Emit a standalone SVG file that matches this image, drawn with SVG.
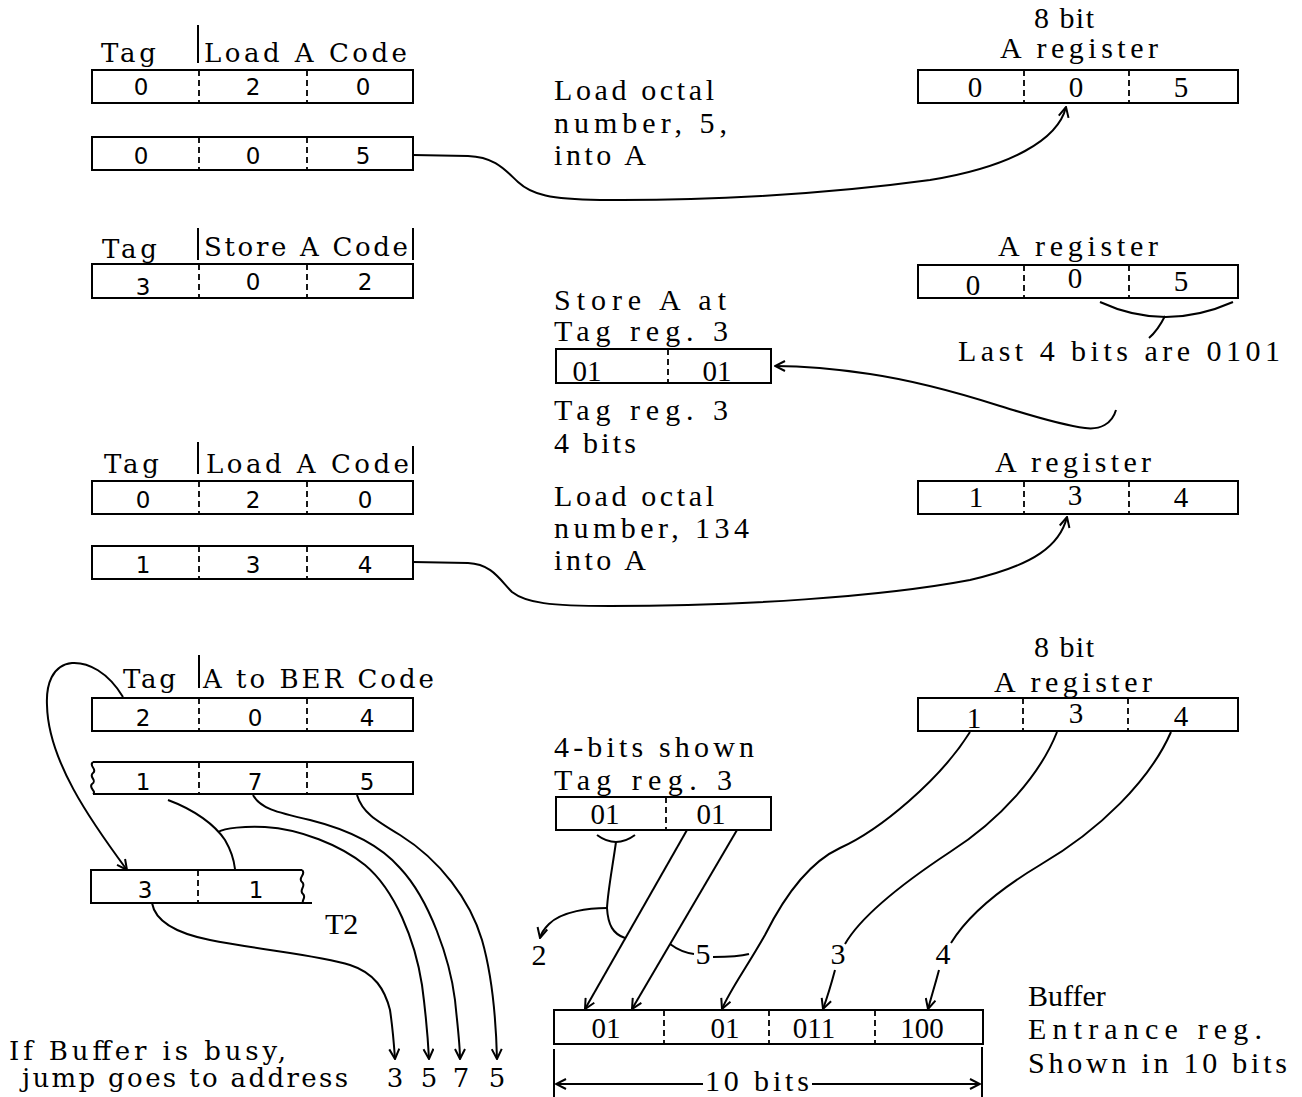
<svg xmlns="http://www.w3.org/2000/svg" width="1302" height="1097" viewBox="0 0 1302 1097">
<style>
.bx{fill:none;stroke:#000;stroke-width:2}
.dv{fill:none;stroke:#000;stroke-width:1.8;stroke-dasharray:6 4}
.ln{fill:none;stroke:#000;stroke-width:2}
.lb{font-family:"DejaVu Serif","Liberation Serif",serif;font-size:26px;fill:#000}
.tx{font-family:"Liberation Serif","DejaVu Serif",serif;font-size:30px;fill:#000}
.dl{font-family:"DejaVu Sans","Liberation Sans",sans-serif;font-size:23px;fill:#000;text-anchor:middle}
.dr{font-family:"Liberation Serif",serif;font-size:29px;fill:#000;text-anchor:middle}
.md{text-anchor:middle}
</style>
<defs>
<marker id="ah" viewBox="0 0 12 12" refX="11" refY="6" markerWidth="12" markerHeight="12" markerUnits="userSpaceOnUse" orient="auto">
<path d="M1,1 L11,6 L1,11" fill="none" stroke="#000" stroke-width="2"/>
</marker>
<marker id="ahs" viewBox="0 0 12 12" refX="11" refY="6" markerWidth="12" markerHeight="12" markerUnits="userSpaceOnUse" orient="auto-start-reverse">
<path d="M1,1 L11,6 L1,11" fill="none" stroke="#000" stroke-width="2"/>
</marker>
</defs>
<rect width="1302" height="1097" fill="#fff"/>

<!-- Row 1: Load A instruction -->
<g id="load-a-1">
<text class="lb" x="101" y="62" textLength="55">Tag</text>
<line class="ln" x1="198" y1="25" x2="198" y2="63"/>
<text class="lb" x="204" y="62" textLength="203">Load A Code</text>
<rect class="bx" x="92" y="70" width="321" height="33"/>
<line class="dv" x1="199" y1="70" x2="199" y2="103"/>
<line class="dv" x1="307" y1="70" x2="307" y2="103"/>
<text class="dl" x="141" y="95">0</text>
<text class="dl" x="253" y="95">2</text>
<text class="dl" x="363" y="95">0</text>
</g>
<g id="operand-005">
<rect class="bx" x="92" y="137" width="321" height="33"/>
<line class="dv" x1="199" y1="137" x2="199" y2="170"/>
<line class="dv" x1="307" y1="137" x2="307" y2="170"/>
<text class="dl" x="141" y="164">0</text>
<text class="dl" x="253" y="164">0</text>
<text class="dl" x="363" y="164">5</text>
</g>
<g id="note-load5">
<text class="tx" x="554" y="100" textLength="160">Load octal</text>
<text class="tx" x="554" y="133" textLength="173">number, 5,</text>
<text class="tx" x="554" y="165" textLength="92">into A</text>
</g>
<g id="areg-1">
<text class="tx md" x="1064" y="28" textLength="60">8 bit</text>
<text class="tx md" x="1079" y="58" textLength="158">A register</text>
<rect class="bx" x="918" y="70" width="320" height="33"/>
<line class="dv" x1="1024" y1="70" x2="1024" y2="103"/>
<line class="dv" x1="1129" y1="70" x2="1129" y2="103"/>
<text class="dr" x="975" y="97">0</text>
<text class="dr" x="1076" y="97">0</text>
<text class="dr" x="1181" y="97">5</text>
</g>

<!-- Row 3: Store A -->
<g id="store-a">
<text class="lb" x="102" y="258" textLength="55">Tag</text>
<line class="ln" x1="198" y1="228" x2="198" y2="260"/>
<line class="ln" x1="413" y1="228" x2="413" y2="260"/>
<text class="lb" x="204" y="256" textLength="204">Store A Code</text>
<rect class="bx" x="92" y="264" width="321" height="34"/>
<line class="dv" x1="199" y1="264" x2="199" y2="298"/>
<line class="dv" x1="307" y1="264" x2="307" y2="298"/>
<text class="dl" x="143" y="295">3</text>
<text class="dl" x="253" y="290">0</text>
<text class="dl" x="365" y="290">2</text>
</g>
<g id="areg-2">
<text class="tx md" x="1078" y="256" textLength="160">A register</text>
<rect class="bx" x="918" y="265" width="320" height="33"/>
<line class="dv" x1="1024" y1="265" x2="1024" y2="298"/>
<line class="dv" x1="1129" y1="265" x2="1129" y2="298"/>
<text class="dr" x="973" y="295">0</text>
<text class="dr" x="1075" y="288">0</text>
<text class="dr" x="1181" y="291">5</text>
<path class="ln" d="M1100,302 Q1165,332 1233,302"/>
<path class="ln" d="M1165,316 C1160,326 1156,332 1149,338"/>
<text class="tx" x="958" y="361" textLength="322">Last 4 bits are 0101</text>
</g>
<g id="tagreg-1">
<text class="tx" x="554" y="310" textLength="172">Store A at</text>
<text class="tx" x="554" y="341" textLength="174">Tag reg. 3</text>
<rect class="bx" x="556" y="349" width="215" height="34"/>
<line class="dv" x1="668" y1="349" x2="668" y2="383"/>
<text class="dr" x="587" y="381">01</text>
<text class="dr" x="717" y="381">01</text>
<text class="tx" x="554" y="420" textLength="174">Tag reg. 3</text>
<text class="tx" x="554" y="453" textLength="82">4 bits</text>
</g>

<!-- Row 4: Load A 134 -->
<g id="load-a-2">
<text class="lb" x="104" y="473" textLength="55">Tag</text>
<line class="ln" x1="198" y1="442" x2="198" y2="474"/>
<line class="ln" x1="413" y1="446" x2="413" y2="474"/>
<text class="lb" x="206" y="473" textLength="203">Load A Code</text>
<rect class="bx" x="92" y="481" width="321" height="33"/>
<line class="dv" x1="199" y1="481" x2="199" y2="514"/>
<line class="dv" x1="307" y1="481" x2="307" y2="514"/>
<text class="dl" x="143" y="508">0</text>
<text class="dl" x="253" y="508">2</text>
<text class="dl" x="365" y="508">0</text>
</g>
<g id="operand-134">
<rect class="bx" x="92" y="546" width="321" height="33"/>
<line class="dv" x1="199" y1="546" x2="199" y2="579"/>
<line class="dv" x1="307" y1="546" x2="307" y2="579"/>
<text class="dl" x="143" y="573">1</text>
<text class="dl" x="253" y="573">3</text>
<text class="dl" x="365" y="573">4</text>
</g>
<g id="note-load134">
<text class="tx" x="554" y="506" textLength="160">Load octal</text>
<text class="tx" x="554" y="538" textLength="195">number, 134</text>
<text class="tx" x="554" y="570" textLength="92">into A</text>
</g>
<g id="areg-3">
<text class="tx md" x="1073" y="472" textLength="156">A register</text>
<rect class="bx" x="918" y="481" width="320" height="33"/>
<line class="dv" x1="1024" y1="481" x2="1024" y2="514"/>
<line class="dv" x1="1129" y1="481" x2="1129" y2="514"/>
<text class="dr" x="976" y="507">1</text>
<text class="dr" x="1075" y="505">3</text>
<text class="dr" x="1181" y="507">4</text>
</g>

<!-- Row 5: A to BER -->
<g id="a-to-ber">
<text class="lb" x="123" y="688" textLength="53">Tag</text>
<line class="ln" x1="199" y1="655" x2="199" y2="688"/>
<text class="lb" x="203" y="688" textLength="231">A to BER Code</text>
<rect class="bx" x="92" y="698" width="321" height="33"/>
<line class="dv" x1="199" y1="698" x2="199" y2="731"/>
<line class="dv" x1="307" y1="698" x2="307" y2="731"/>
<text class="dl" x="143" y="726">2</text>
<text class="dl" x="255" y="726">0</text>
<text class="dl" x="367" y="726">4</text>
</g>
<g id="operand-175">
<path class="bx" d="M93,762 L413,762 L413,794 L93,794 M93,762 C88,766 98,769 93,773 C88,777 98,780 92,784 C88,788 97,791 93,794"/>
<line class="dv" x1="199" y1="762" x2="199" y2="794"/>
<line class="dv" x1="307" y1="762" x2="307" y2="794"/>
<text class="dl" x="143" y="790">1</text>
<text class="dl" x="255" y="790">7</text>
<text class="dl" x="367" y="790">5</text>
</g>
<g id="t2">
<path class="bx" d="M302,870 L91,870 L91,903 L312,903 M302,870 C307,874 297,878 302,882 C307,886 298,890 303,894 C307,898 300,901 304,903"/>
<line class="dv" x1="198" y1="870" x2="198" y2="903"/>
<text class="dl" x="145" y="898">3</text>
<text class="dl" x="256" y="898">1</text>
<text class="tx" x="325" y="934">T2</text>
</g>
<g id="jump-note">
<text class="lb" x="9" y="1060" textLength="277">If Buffer is busy,</text>
<text class="lb" x="22" y="1087" textLength="326">jump goes to address</text>
<text class="lb md" x="395" y="1087">3</text>
<text class="lb md" x="429" y="1087">5</text>
<text class="lb md" x="461" y="1087">7</text>
<text class="lb md" x="497" y="1087">5</text>
</g>

<!-- Bottom right -->
<g id="areg-4">
<text class="tx md" x="1064" y="657" textLength="60">8 bit</text>
<text class="tx md" x="1073" y="692" textLength="158">A register</text>
<rect class="bx" x="918" y="698" width="320" height="33"/>
<line class="dv" x1="1023" y1="698" x2="1023" y2="731"/>
<line class="dv" x1="1128" y1="698" x2="1128" y2="731"/>
<text class="dr" x="974" y="728">1</text>
<text class="dr" x="1076" y="723">3</text>
<text class="dr" x="1181" y="726">4</text>
</g>
<g id="tagreg-2">
<text class="tx" x="554" y="757" textLength="200">4-bits shown</text>
<text class="tx" x="554" y="790" textLength="178">Tag reg. 3</text>
<rect class="bx" x="556" y="797" width="215" height="33"/>
<line class="dv" x1="666" y1="797" x2="666" y2="830"/>
<text class="dr" x="605" y="824">01</text>
<text class="dr" x="711" y="824">01</text>
</g>
<g id="buffer">
<rect class="bx" x="554" y="1010" width="429" height="34"/>
<line class="dv" x1="664" y1="1010" x2="664" y2="1044"/>
<line class="dv" x1="769" y1="1010" x2="769" y2="1044"/>
<line class="dv" x1="875" y1="1010" x2="875" y2="1044"/>
<text class="dr" x="606" y="1038">01</text>
<text class="dr" x="725" y="1038">01</text>
<text class="dr" x="814" y="1038">011</text>
<text class="dr" x="922" y="1038">100</text>
<text class="tx" x="1028" y="1006">Buffer</text>
<text class="tx" x="1028" y="1039" textLength="234">Entrance reg.</text>
<text class="tx" x="1028" y="1073" textLength="259">Shown in 10 bits</text>
<line class="ln" x1="554" y1="1049" x2="554" y2="1097"/>
<line class="ln" x1="982" y1="1047" x2="982" y2="1097"/>
<line class="ln" x1="556" y1="1084" x2="703" y2="1084" marker-start="url(#ahs)"/>
<line class="ln" x1="812" y1="1084" x2="980" y2="1084" marker-end="url(#ah)"/>
<text class="tx md" x="757" y="1091" font-size="27" textLength="104">10 bits</text>
</g>
<g id="labels-bits">
<text class="tx md" x="539" y="965">2</text>
<text class="tx md" x="703" y="964">5</text>
<text class="tx md" x="838" y="964">3</text>
<text class="tx md" x="943" y="964">4</text>
</g>

<!-- Connectors -->
<g id="connectors">
<path class="ln" d="M413,155 L468,156 C495,157 505,170 518,182 C532,195 550,199 600,200 C700,201 820,195 930,180 C1010,167 1058,140 1066,107" marker-end="url(#ah)"/>
<path class="ln" d="M1116,410 C1112,424 1100,430 1085,428 C1060,425 1030,415 1000,406 C950,390 910,380 870,374 C830,368 800,366 775,366" marker-end="url(#ah)"/>
<path class="ln" d="M413,562 L468,563 C492,564 500,580 512,592 C526,603 550,606 610,606 C740,606 880,597 970,580 C1035,565 1060,545 1067,517" marker-end="url(#ah)"/>
<path class="ln" d="M123,697 C108,672 88,662 72,663 C52,665 46,685 47,705 C48,760 90,820 127,870" marker-end="url(#ah)"/>
<path class="ln" d="M168,800 C195,810 215,825 225,840 C232,852 234,860 235,869"/>
<path class="ln" d="M218,832 C225,828 245,826 265,827 C300,829 340,845 365,865 C395,890 415,940 422,985 C426,1015 428,1040 429,1059" marker-end="url(#ah)"/>
<path class="ln" d="M253,795 C260,808 275,812 310,820 C350,830 380,845 400,868 C430,900 450,960 455,1000 C458,1030 460,1045 460,1059" marker-end="url(#ah)"/>
<path class="ln" d="M357,795 C362,812 375,820 400,835 C440,860 470,900 482,940 C492,975 496,1020 497,1059" marker-end="url(#ah)"/>
<path class="ln" d="M152,903 C155,920 175,933 210,940 C260,950 320,955 350,965 C375,973 385,990 390,1010 C393,1030 394,1045 395,1059" marker-end="url(#ah)"/>
<path class="ln" d="M597,835 Q616,849 635,835"/>
<path class="ln" d="M616,842 C612,870 608,890 607,908 C608,925 613,934 625,938"/>
<path class="ln" d="M607,908 C590,908 562,911 549,924 C544,929 541,934 540,938" marker-end="url(#ah)"/>
<path class="ln" d="M687,830 L585,1009" marker-end="url(#ah)"/>
<path class="ln" d="M737,830 L632,1009" marker-end="url(#ah)"/>
<path class="ln" d="M670,944 C678,950 686,953 694,954"/>
<path class="ln" d="M713,957 C725,957 738,957 749,954"/>
<path class="ln" d="M970,732 C940,780 880,830 840,848 C810,862 785,895 765,935 C745,970 730,990 722,1009" marker-end="url(#ah)"/>
<path class="ln" d="M1057,732 C1040,775 1000,820 950,852 C900,885 860,918 845,944"/>
<path class="ln" d="M835,970 C831,985 827,998 823,1009" marker-end="url(#ah)"/>
<path class="ln" d="M1171,732 C1150,780 1100,830 1040,865 C990,895 965,920 951,943"/>
<path class="ln" d="M939,970 C935,985 931,998 928,1009" marker-end="url(#ah)"/>
</g>
</svg>
